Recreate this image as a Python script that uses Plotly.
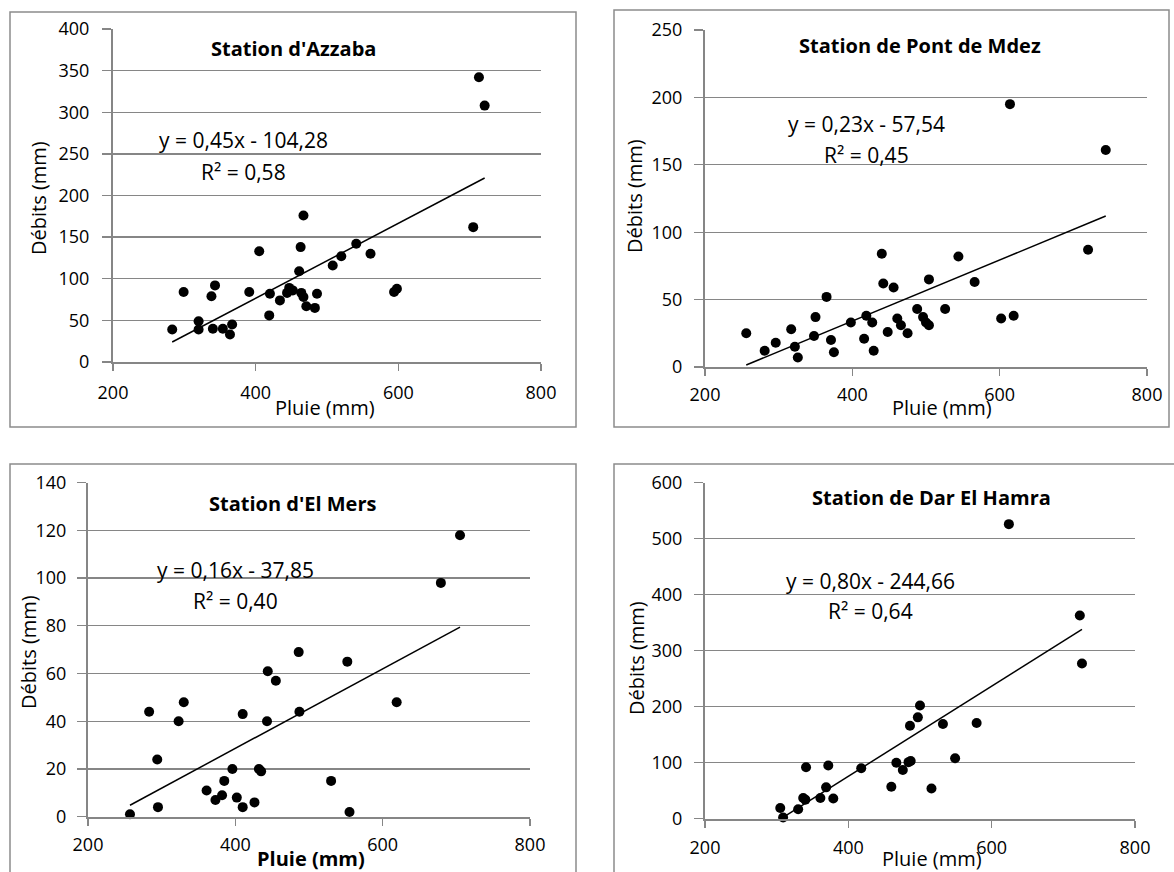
import plotly.graph_objects as go

W, H = 1174, 872

# ---------------- Data ----------------
# Station d'Azzaba
azzaba_pluie = [283, 299, 320, 320, 338, 343, 340, 354, 364, 367, 391, 405, 419, 420,
                434, 444, 447, 452, 461, 463, 464, 467, 467, 471, 483, 486, 508, 520,
                541, 561, 594, 598, 705, 713, 721]
azzaba_debit = [39, 84, 49, 39, 79, 92, 40, 40, 33, 45, 84, 133, 56, 82,
                74, 83, 89, 86, 109, 138, 83, 176, 78, 67, 65, 82, 116, 127,
                142, 130, 84, 88, 162, 342, 308]
azzaba_trend_x = [283, 721]
azzaba_trend_y = [24, 221]

# Station de Pont de Mdez
mdez_pluie = [256, 281, 296, 317, 322, 326, 348, 350, 365, 371, 375, 398, 416, 419,
              427, 429, 440, 442, 448, 456, 461, 466, 475, 488, 496, 500, 504, 504,
              526, 544, 566, 602, 619, 614, 720, 744]
mdez_debit = [25, 12, 18, 28, 15, 7, 23, 37, 52, 20, 11, 33, 21, 38,
              33, 12, 84, 62, 26, 59, 36, 31, 25, 43, 37, 33, 31, 65,
              43, 82, 63, 36, 38, 195, 87, 161]
mdez_trend_x = [256, 744]
mdez_trend_y = [1.5, 112]

# Station d'El Mers
elmers_pluie = [257, 283, 294, 295, 323, 330, 361, 373, 382, 385, 396, 402, 410, 410,
                426, 432, 435, 444, 443, 455, 486, 487, 530, 552, 555, 619, 679, 705]
elmers_debit = [1, 44, 24, 4, 40, 48, 11, 7, 9, 15, 20, 8, 43, 4,
                6, 20, 19, 61, 40, 57, 69, 44, 15, 65, 2, 48, 98, 118]
elmers_trend_x = [257, 705]
elmers_trend_y = [4.8, 79.5]

# Station de Dar El Hamra
hamra_pluie = [305, 309, 330, 337, 341, 340, 361, 369, 372, 379, 418, 460, 467,
               476, 484, 487, 486, 497, 500, 516, 532, 549, 579, 624, 723, 726]
hamra_debit = [19, 2, 17, 37, 92, 34, 37, 56, 95, 36, 90, 57, 100,
               87, 101, 103, 166, 181, 202, 54, 169, 108, 171, 526, 363, 277]
hamra_trend_x = [305, 726]
hamra_trend_y = [-0.7, 338]

titles = ["Station d'Azzaba", "Station de Pont de Mdez",
          "Station d'El Mers", "Station de Dar El Hamra"]
equations = ["y = 0,45x - 104,28", "y = 0,23x - 57,54",
             "y = 0,16x - 37,85", "y = 0,80x - 244,66"]
r2_labels = ["R² = 0,58", "R² = 0,45", "R² = 0,40", "R² = 0,64"]
y_max = [400, 250, 140, 600]
y_step = [50, 50, 20, 100]
x_ticks = [200, 400, 600, 800]

# ---------------- Layout geometry (pixels) ----------------
FONT = "'Open Sans', Lato, sans-serif"
GRID = "#868686"


def px(x):
    return x / W


def py(y):
    return 1 - y / H


panels = [
    dict(x0=113, x1=541, y0=29, y1=362, box=(10, 12, 576, 427),
         title=(293, 49), eq=(243, 140), r2=(243, 172), ytitle=(38, 198),
         xtitle=(325, 407), xbold=False, xstand=6, ystand=9),
    dict(x0=705, x1=1147, y0=30, y1=367, box=(614, 10, 1169, 427),
         title=(920, 45), eq=(866, 124), r2=(866, 155), ytitle=(634, 196),
         xtitle=(942, 407), xbold=False, xstand=3, ystand=8),
    dict(x0=88, x1=530, y0=482.7, y1=816.7, box=(10, 464, 576, 900),
         title=(293, 503), eq=(235, 570), r2=(235, 601), ytitle=(28, 652),
         xtitle=(311, 858), xbold=True, xstand=4, ystand=7),
    dict(x0=705, x1=1135, y0=482.7, y1=818.7, box=(614, 464, 1200, 900),
         title=(932, 498), eq=(870, 581), r2=(870, 611), ytitle=(636, 658),
         xtitle=(932, 858), xbold=False, xstand=5, ystand=8),
]

series = [
    (azzaba_pluie, azzaba_debit, azzaba_trend_x, azzaba_trend_y),
    (mdez_pluie, mdez_debit, mdez_trend_x, mdez_trend_y),
    (elmers_pluie, elmers_debit, elmers_trend_x, elmers_trend_y),
    (hamra_pluie, hamra_debit, hamra_trend_x, hamra_trend_y),
]

fig = go.Figure()
shapes = []
annotations = []
layout_axes = {}


def ann(text, pos, size, bold=False, angle=0):
    annotations.append(dict(
        text=f"<b>{text}</b>" if bold else text, xref="paper", yref="paper",
        x=px(pos[0]), y=py(pos[1]), xanchor="center", yanchor="middle",
        showarrow=False, textangle=angle,
        font=dict(family=FONT, size=size, color="black")))


for i, (p, (xs, ys, tx, ty)) in enumerate(zip(panels, series)):
    n = i + 1
    xa = "x" if n == 1 else f"x{n}"
    ya = "y" if n == 1 else f"y{n}"
    xkey = "xaxis" if n == 1 else f"xaxis{n}"
    ykey = "yaxis" if n == 1 else f"yaxis{n}"

    fig.add_trace(go.Scatter(x=xs, y=ys, mode="markers", xaxis=xa, yaxis=ya,
                             marker=dict(color="black", size=10),
                             showlegend=False, cliponaxis=False))
    fig.add_trace(go.Scatter(x=tx, y=ty, mode="lines", xaxis=xa, yaxis=ya,
                             line=dict(color="black", width=1.5),
                             showlegend=False))

    layout_axes[xkey] = dict(
        domain=[px(p["x0"]), px(p["x1"])], anchor=ya, range=[200, 800],
        tickvals=x_ticks, showgrid=False, zeroline=False, showline=True,
        linecolor=GRID, linewidth=2, ticks="outside", ticklen=7,
        tickcolor=GRID, tickwidth=1.5, ticklabelstandoff=p["xstand"],
        tickfont=dict(family=FONT, size=18, color="black"), fixedrange=True)
    layout_axes[ykey] = dict(
        domain=[py(p["y1"]), py(p["y0"])], anchor=xa, range=[0, y_max[i]],
        dtick=y_step[i], tick0=0, showgrid=True, gridcolor=GRID, gridwidth=1.3,
        zeroline=False, showline=True, linecolor=GRID, linewidth=2,
        ticks="outside", ticklen=9, tickcolor=GRID, tickwidth=1.3,
        ticklabelstandoff=p["ystand"],
        tickfont=dict(family=FONT, size=18, color="black"), fixedrange=True)

    bx0, by0, bx1, by1 = p["box"]
    shapes.append(dict(type="rect", xref="paper", yref="paper",
                       x0=px(bx0), x1=px(bx1), y0=py(by1), y1=py(by0),
                       line=dict(color="#8c8c8c", width=1.5), layer="below"))

    ann(titles[i], p["title"], 20, bold=True)
    ann(equations[i], p["eq"], 21)
    ann(r2_labels[i], p["r2"], 21)
    ann("Débits (mm)", p["ytitle"], 20, angle=-90)
    ann("Pluie (mm)", p["xtitle"], 20, bold=p["xbold"])

fig.update_layout(
    width=W, height=H, autosize=False, template="none",
    margin=dict(l=0, r=0, t=0, b=0, pad=0),
    paper_bgcolor="white", plot_bgcolor="white",
    shapes=shapes, annotations=annotations, showlegend=False,
    hovermode=False,
    **layout_axes)

fig.write_html(
    "out.html",
    config={"displayModeBar": False, "staticPlot": True},
    post_script="document.body.style.margin='0';"
                "document.body.style.padding='0';"
                "document.body.style.overflow='hidden';")
